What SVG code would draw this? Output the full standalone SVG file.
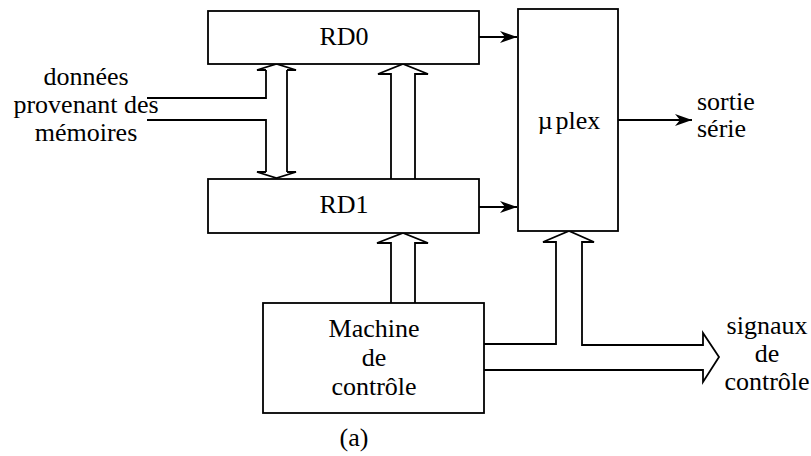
<svg xmlns="http://www.w3.org/2000/svg" width="811" height="456" viewBox="0 0 811 456">
<defs>
<style>
.box{fill:#fff;stroke:#000;stroke-width:1.8}
.ln{fill:none;stroke:#000;stroke-width:1.8}
.hol{fill:#fff;stroke:#000;stroke-width:1.8;stroke-linejoin:miter}
text{font-family:'Liberation Serif','DejaVu Serif',serif;font-size:26px;fill:#000}
.c{text-anchor:middle}
</style>
<marker id="ah" markerUnits="userSpaceOnUse" markerWidth="18" markerHeight="14" viewBox="0 0 18 14" refX="17" refY="7" orient="auto">
<path d="M0,1 L17,7 L0,13 L5,7 z" fill="#000"/>
</marker>
</defs>
<rect width="811" height="456" fill="#fff"/>
<g id="connectors">
<path class="ln" d="M266,70 L266,98 L147,98"/>
<path class="ln" d="M147,120 L266,120 L266,172"/>
<path class="ln" d="M287,70 L287,172"/>
<path class="ln" d="M266,70 L257,70 L276.5,64 L296,70 L287,70"/>
<path class="ln" d="M266,172 L257,172 L276.5,178 L296,172 L287,172"/>
<path class="hol" d="M391,179 L391,74 L378,74 L403,64 L428,74 L415,74 L415,179"/>
<path class="hol" d="M391,303 L391,243 L377,243 L403,233 L428,243 L415,243 L415,303"/>
<path class="hol" d="M484,344 L556,344 L556,242 L543,242 L569,231 L594,242 L582,242 L582,345 L703,345 L703,333 L719,357 L703,382 L703,370 L484,370"/>
<line class="ln" x1="479" y1="37" x2="517" y2="37" marker-end="url(#ah)"/>
<line class="ln" x1="479" y1="207" x2="517" y2="207" marker-end="url(#ah)"/>
<line class="ln" x1="618" y1="120" x2="692" y2="120" marker-end="url(#ah)"/>
</g>
<g id="RD0">
<rect class="box" x="208" y="11" width="271" height="53"/>
<text class="c" x="344" y="45">RD0</text>
</g>
<g id="RD1">
<rect class="box" x="208" y="179" width="271" height="54"/>
<text class="c" x="344" y="213">RD1</text>
</g>
<g id="mux">
<rect class="box" x="518" y="9" width="100" height="222"/>
<text class="c" x="569" y="129">µ<tspan dx="3">plex</tspan></text>
</g>
<g id="machine">
<rect class="box" x="263" y="303" width="221" height="110"/>
<text class="c" x="374" y="337">Machine</text>
<text class="c" x="374" y="366">de</text>
<text class="c" x="374" y="395">contrôle</text>
</g>
<g id="input-label">
<text class="c" x="86" y="85">données</text>
<text class="c" x="86" y="113">provenant des</text>
<text class="c" x="86" y="141">mémoires</text>
</g>
<g id="output-label">
<text x="697" y="110">sortie</text>
<text x="697" y="137">série</text>
</g>
<g id="signals-label">
<text class="c" x="767" y="334">signaux</text>
<text class="c" x="767" y="362">de</text>
<text class="c" x="767" y="390">contrôle</text>
</g>
<g id="caption">
<text class="c" x="354" y="446">(a)</text>
</g>
</svg>
